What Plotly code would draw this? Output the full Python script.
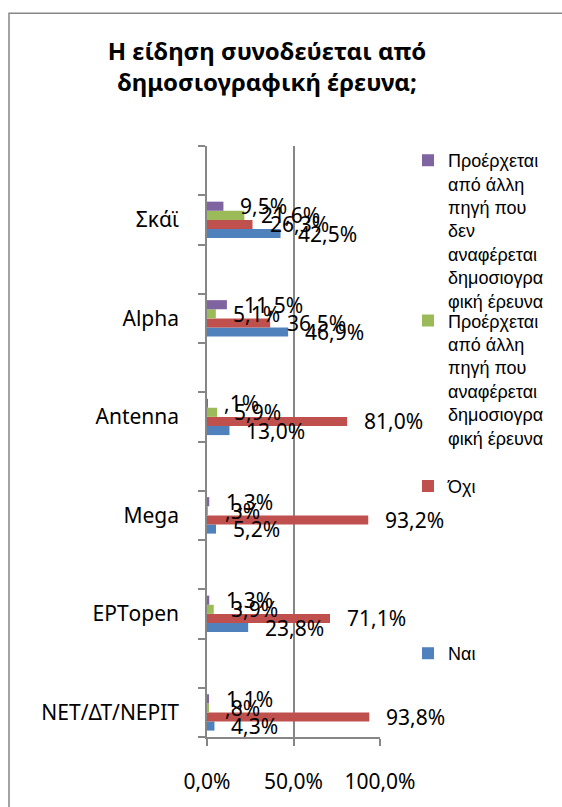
import plotly.graph_objects as go

# channels from bottom to top, each sits in its own slot with an empty slot above it
channels = ["ΝΕΤ/ΔΤ/ΝΕΡΙΤ", "ΕΡΤopen", "Mega", "Antenna", "Alpha", "Σκάϊ"]
series_names = [
    "Ναι",
    "Όχι",
    "Προέρχεται<br>από άλλη<br>πηγή που<br>αναφέρεται<br>δημοσιογρα<br>φική έρευνα",
    "Προέρχεται<br>από άλλη<br>πηγή που<br>δεν<br>αναφέρεται<br>δημοσιογρα<br>φική έρευνα",
]
nai = [4.3, 23.8, 5.2, 13.0, 46.9, 42.5]
oxi = [93.8, 71.1, 93.2, 81.0, 36.5, 26.3]
me_erevna = [0.8, 3.9, 0.3, 5.9, 5.1, 21.6]
xoris_erevna = [1.1, 1.3, 1.3, 0.1, 11.5, 9.5]
x_ticks = [0, 50, 100]

colors = ["#4F81BD", "#C0504D", "#9BBB59", "#8064A2"]
GRAY = "#868686"

# plot area in pixels, used to place legends / frame in paper coords
PL, PR, PT, PB = 207, 380, 146, 743
W, H = 562, 807


def px_x(p):
    return (p - PL) / (PR - PL)


def px_y(p):
    return (PB - p) / (PB - PT)


def fmt(v):
    s = f"{v:.1f}".replace(".", ",")
    if s.startswith("0,") and v != 0 and len(s) > 2:
        s = s[1:]
    return s + "%"


ypos = [2 * i + 0.5 for i in range(len(channels))]
all_series = [nai, oxi, me_erevna, xoris_erevna]

fig = go.Figure()
legend_ids = ["legend4", "legend3", "legend2", "legend"]
for i, vals in enumerate(all_series):
    fig.add_trace(go.Bar(
        y=ypos, x=vals, orientation="h", name=series_names[i],
        marker=dict(color=colors[i], line=dict(width=0)),
        legend=legend_ids[i], hoverinfo="skip",
    ))

# data labels just right of the bar ends
bar_w = 2 * (1 - 0.63) / 4
annotations = []
for i, vals in enumerate(all_series):
    for y, v in zip(ypos, vals):
        annotations.append(dict(
            x=v, y=y + (i - 1.5) * bar_w, text=fmt(v), showarrow=False,
            xanchor="left", yanchor="middle", xshift=15,
            font=dict(family="Noto Sans", size=21, color="black"),
        ))

# one legend per series, stacked down the right side, kept inside the figure
legend_tops = {"legend": 142, "legend2": 304, "legend3": 471, "legend4": 640}
legend_style = dict(
    x=px_x(408), xanchor="left", yanchor="top", valign="top",
    bgcolor="rgba(0,0,0,0)", borderwidth=0,
    font=dict(family="Liberation Sans", size=18, color="black"),
)

tick_text = [f"{t:.1f}".replace(".", ",") + "%" for t in x_ticks]

fig.update_layout(
    width=W, height=H,
    margin=dict(l=PL, r=W - PR, t=PT, b=H - PB, pad=0),
    paper_bgcolor="white", plot_bgcolor="white",
    barmode="group", bargap=0.63, bargroupgap=0,
    title=dict(
        text="<b>Η είδηση συνοδεύεται από<br>δημοσιογραφική έρευνα;</b>",
        x=267 / W, xanchor="center", y=1 - 60 / H, yanchor="top",
        font=dict(family="Noto Sans", size=24, color="black"),
    ),
    xaxis=dict(
        range=[0, 100], tickvals=x_ticks, ticktext=tick_text,
        showgrid=True, gridcolor=GRAY, gridwidth=1.5,
        showline=True, linecolor=GRAY, linewidth=1.5,
        ticks="outside", ticklen=7, tickcolor=GRAY, tickwidth=1.5,
        ticklabelstandoff=18, zeroline=False,
        tickfont=dict(family="Noto Sans", size=21, color="black"),
    ),
    yaxis=dict(
        range=[0, 12], tickvals=ypos, ticktext=channels, ticks="",
        showgrid=False, zeroline=False,
        showline=True, linecolor=GRAY, linewidth=1.5,
        ticklabelstandoff=22,
        minor=dict(tickmode="array", tickvals=list(range(13)), ticks="outside",
                   ticklen=7, tickcolor=GRAY, tickwidth=1.5, showgrid=False),
        tickfont=dict(family="Noto Sans", size=21, color="black"),
    ),
    annotations=annotations,
    showlegend=True,
    shapes=[dict(type="rect", xref="paper", yref="paper",
                 x0=px_x(9), x1=px_x(600), y0=px_y(850), y1=px_y(12),
                 line=dict(color=GRAY, width=1.5), layer="below")],
)
for lid, top in legend_tops.items():
    fig.update_layout({lid: dict(legend_style, y=px_y(top))})

# drop the default page margin so the figure sits at the window corner
fig.write_html("out.html", config={"displayModeBar": False},
               post_script="document.body.style.margin='0';")
